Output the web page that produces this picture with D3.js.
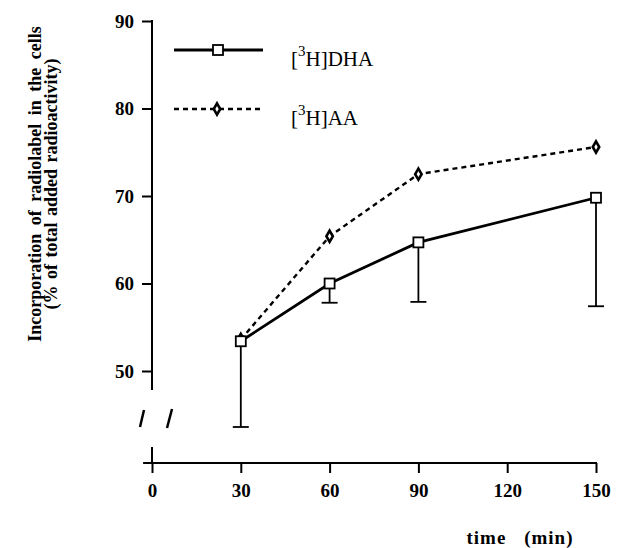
<!DOCTYPE html>
<html>
<head>
<meta charset="utf-8">
<script src="https://cdn.jsdelivr.net/npm/d3@7"></script>
<style>
  body { margin: 0; background: #fff; }
  svg text { font-family: "Liberation Serif", "Times New Roman", serif; fill: #000; }
</style>
</head>
<body>
<div id="chart"></div>
<script>
// data
const times = [30, 60, 90, 150];
const dhaValues = [53.4, 60.0, 64.7, 69.8];
const dhaErrLow = [43.6, 57.8, 57.9, 57.4];
const aaValues = [53.6, 65.4, 72.5, 75.6];
const xTicks = [0, 30, 60, 90, 120, 150];
const yTicks = [50, 60, 70, 80, 90];

const width = 617, height = 548;

const svg = d3.select('#chart').append('svg')
    .attr('width', width)
    .attr('height', height);

// scales
const x = d3.scaleLinear([0, 150], [152, 596]);
const y = d3.scaleLinear([50, 90], [371, 21]);
const xAxisY = 463;

// y axis
const axisY = svg.append('g')
    .attr('transform', `translate(${x(0)},0)`)
    .call(d3.axisLeft(y).tickValues(yTicks).tickSize(10).tickPadding(8).tickSizeOuter(0));
axisY.select('.domain').remove();
axisY.selectAll('line').attr('stroke-width', 2);
axisY.selectAll('text')
    .style('font-size', '19px').style('font-weight', 'bold')
    .attr('font-family', null);
svg.append('line')
    .attr('x1', x(0)).attr('x2', x(0))
    .attr('y1', y(90) - 1).attr('y2', 390)
    .attr('stroke', '#000').attr('stroke-width', 2);

// axis break marks
[[140, 427, 144, 410], [167, 428, 172, 409]].forEach(d => {
    svg.append('line')
        .attr('x1', d[0]).attr('y1', d[1]).attr('x2', d[2]).attr('y2', d[3])
        .attr('stroke', '#000').attr('stroke-width', 2.5);
});

// x axis
const axisX = svg.append('g')
    .attr('transform', `translate(0,${xAxisY})`)
    .call(d3.axisBottom(x).tickValues(xTicks).tickSize(10).tickPadding(11).tickSizeOuter(0));
axisX.select('.domain').remove();
axisX.selectAll('line').attr('stroke-width', 2);
axisX.selectAll('text')
    .style('font-size', '19px').style('font-weight', 'bold')
    .attr('font-family', null);
svg.append('line')
    .attr('x1', x(-3)).attr('x2', x(150) + 1)
    .attr('y1', xAxisY).attr('y2', xAxisY)
    .attr('stroke', '#000').attr('stroke-width', 2);
svg.append('line')
    .attr('x1', x(0)).attr('x2', x(0))
    .attr('y1', xAxisY - 16).attr('y2', xAxisY)
    .attr('stroke', '#000').attr('stroke-width', 2);

// axis titles
svg.append('text')
    .attr('x', 520).attr('y', 544)
    .attr('text-anchor', 'middle')
    .style('font-size', '19px').style('font-weight', 'bold')
    .style('letter-spacing', '1px')
    .style('word-spacing', '12px')
    .text('time (min)');

const yTitle = svg.append('text')
    .attr('transform', 'translate(0,184) rotate(-90)')
    .attr('text-anchor', 'middle')
    .style('font-size', '18px').style('font-weight', 'bold');
yTitle.append('tspan').attr('x', 0).attr('y', 41)
    .style('word-spacing', '4px')
    .text('Incorporation of radiolabel in the cells');
yTitle.append('tspan').attr('x', 0).attr('y', 57)
    .style('word-spacing', '2px')
    .text('(% of total added radioactivity)');

// data points
const dha = times.map((t, i) => ({ t, v: dhaValues[i], lo: dhaErrLow[i] }));
const aa = times.map((t, i) => ({ t, v: aaValues[i] }));

const line = d3.line().x(d => x(d.t)).y(d => y(d.v));

// error bars (downward)
const err = svg.append('g').attr('stroke', '#000').attr('stroke-width', 1.8);
err.selectAll('line.stem').data(dha).join('line').classed('stem', true)
    .attr('x1', d => x(d.t)).attr('x2', d => x(d.t))
    .attr('y1', d => y(d.v) + 5).attr('y2', d => y(d.lo));
err.selectAll('line.cap').data(dha).join('line').classed('cap', true)
    .attr('x1', d => x(d.t) - 8).attr('x2', d => x(d.t) + 8)
    .attr('y1', d => y(d.lo)).attr('y2', d => y(d.lo));

// AA dashed line
svg.append('path').datum(aa)
    .attr('d', line)
    .attr('fill', 'none').attr('stroke', '#000')
    .attr('stroke-width', 2.4).attr('stroke-dasharray', '5,4');

// DHA solid line
svg.append('path').datum(dha)
    .attr('d', line)
    .attr('fill', 'none').attr('stroke', '#000')
    .attr('stroke-width', 2.8);

const diamond = d3.symbol().type(d3.symbolDiamond).size(36);

svg.selectAll('path.aa').data(aa).join('path').classed('aa', true)
    .attr('transform', d => `translate(${x(d.t)},${y(d.v)})`)
    .attr('d', diamond)
    .attr('fill', '#fff').attr('stroke', '#000').attr('stroke-width', 2.6);

svg.selectAll('rect.dha').data(dha).join('rect').classed('dha', true)
    .attr('x', d => x(d.t) - 5).attr('y', d => y(d.v) - 5)
    .attr('width', 10).attr('height', 10)
    .attr('fill', '#fff').attr('stroke', '#000').attr('stroke-width', 1.8);

// legend
const legend = svg.append('g');
legend.append('line').attr('x1', 174).attr('x2', 263).attr('y1', 50).attr('y2', 50)
    .attr('stroke', '#000').attr('stroke-width', 2.8);
legend.append('rect').attr('x', 213).attr('y', 45).attr('width', 10).attr('height', 10)
    .attr('fill', '#fff').attr('stroke', '#000').attr('stroke-width', 1.8);
legend.append('line').attr('x1', 174).attr('x2', 262).attr('y1', 109).attr('y2', 109)
    .attr('stroke', '#000').attr('stroke-width', 2.4).attr('stroke-dasharray', '5,4');
legend.append('path').attr('transform', 'translate(217,109)').attr('d', diamond)
    .attr('fill', '#fff').attr('stroke', '#000').attr('stroke-width', 2.6);

const legendLabels = [['DHA', 66], ['AA', 125]];
legendLabels.forEach(([name, yy]) => {
    const t = legend.append('text').attr('x', 291).attr('y', yy).style('font-size', '21px');
    t.append('tspan').text('[');
    t.append('tspan').attr('dy', -10).style('font-size', '15px').text('3');
    t.append('tspan').attr('dy', 10).text('H]' + name);
});
</script>
</body>
</html>
